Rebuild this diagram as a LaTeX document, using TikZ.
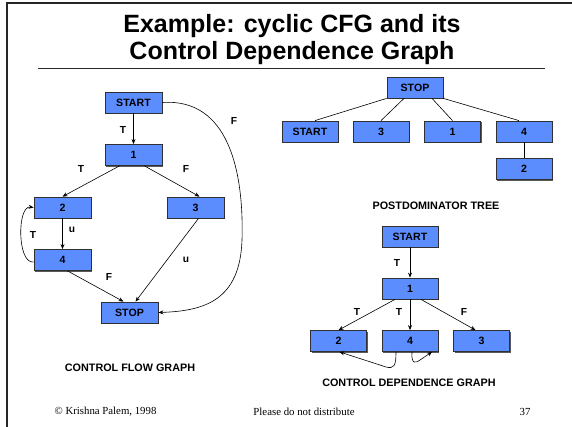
\documentclass[tikz,border=0pt]{standalone}
\usepackage{fontspec}
\setmainfont{Liberation Sans}
\newfontfamily\footserif{Liberation Serif}
\usetikzlibrary{arrows.meta,shadows}
\definecolor{boxblue}{HTML}{5C8DFF}
\definecolor{boxedge}{HTML}{303030}
\begin{document}
\begin{tikzpicture}[x=1pt,y=-1pt,
  blk/.style={draw=boxedge,line width=0.8pt,fill=boxblue,
    minimum width=57pt,minimum height=21pt,inner sep=0pt,
    font=\fontsize{10.6}{12}\selectfont\bfseries,
    drop shadow={shadow xshift=1.3pt,shadow yshift=-1.3pt,fill=black!65,opacity=1}},
  arr/.style={-{Stealth[length=5pt,width=4pt]},line width=0.6pt},
  lnk/.style={line width=0.6pt},
  elab/.style={font=\fontsize{10.2}{11}\selectfont\bfseries,inner sep=0pt},
  captext/.style={font=\fontsize{10.8}{13}\selectfont\bfseries,inner sep=0pt},
  foot/.style={font=\footserif\fontsize{10.8}{13}\selectfont,inner sep=0pt}]
\path[use as bounding box,fill=white] (0,0) rectangle (572,427);

% slide frame and title
\draw[line width=2pt,black!85] (7,427) -- (7,2.8) -- (572,2.8);
\node[align=center,inner sep=0pt,font=\fontsize{25}{27}\selectfont\bfseries]
  (title) at (292,40) {Example: cyclic CFG and its\\Control Dependence Graph};
\draw[line width=1.5pt,black!85] (38,68.5) -- (545,68.5);

% control flow graph
\node[blk] (cS) at (133.5,102.5) {START};
\node[blk] (c1) at (133.5,155) {1};
\node[blk] (c2) at (62.5,207.5) {2};
\node[blk] (c3) at (195.5,207.5) {3};
\node[blk] (c4) at (62.5,260) {4};
\node[blk] (cE) at (129.5,312.5) {STOP};
\draw[arr] (cS) -- (c1);
\draw[arr] ([xshift=-14]c1.south) -- (c2.north);
\draw[arr] ([xshift=11]c1.south) -- ([xshift=4]c3.north);
\draw[arr] (c2) -- (c4);
\draw[arr] ([xshift=5]c4.south) -- ([xshift=-6]cE.north);
\draw[arr] ([xshift=3]c3.south) -- ([xshift=6]cE.north);
\draw[arr] (cS.east) .. controls (228,98) and (244,170) .. (242,240)
  .. controls (240,300) and (205,311) .. (cE.east);
\draw[arr] ([yshift=-2]c4.west) .. controls (17,264) and (17,205) .. (c2.west);
\node[elab] (lT1) at (123,130) {T};
\node[elab] (lT2) at (81,169) {T};
\node[elab] (lF1) at (186,169) {F};
\node[elab] (lu1) at (72,230) {u};
\node[elab] (lT3) at (33,235) {T};
\node[elab] (lu2) at (186,260) {u};
\node[elab] (lF2) at (109,277) {F};
\node[elab] (lF3) at (234,121) {F};
\node[captext] (capCFG) at (130,368) {CONTROL FLOW GRAPH};

% postdominator tree
\node[blk,minimum width=56pt] (pS) at (415,87.5) {STOP};
\node[blk,minimum width=56pt] (pA) at (310,131.5) {START};
\node[blk,minimum width=56pt] (p3) at (381,131.5) {3};
\node[blk,minimum width=56pt] (p1) at (452.5,131.5) {1};
\node[blk,minimum width=56pt] (p4) at (524,131.5) {4};
\node[blk,minimum width=56pt] (p2) at (524,169) {2};
\draw[lnk] (pS.south west) -- ([xshift=5]pA.north);
\draw[lnk] ([xshift=-11]pS.south) -- (p3.north);
\draw[lnk] ([xshift=17]pS.south) -- (p1.north);
\draw[lnk] (pS.south east) -- ([xshift=-5]p4.north);
\draw[lnk] (p4) -- (p2);
\node[captext] (capPDT) at (436,206) {POSTDOMINATOR TREE};

% control dependence graph
\node[blk,minimum width=56pt] (dS) at (410,236.5) {START};
\node[blk,minimum width=56pt] (d1) at (410,288.5) {1};
\node[blk,minimum width=56pt] (d2) at (338.5,341) {2};
\node[blk,minimum width=56pt] (d4) at (410,341) {4};
\node[blk,minimum width=56pt] (d3) at (481.5,341) {3};
\draw[arr] (dS) -- (d1);
\draw[arr] ([xshift=-15]d1.south) -- (d2.north);
\draw[arr] (d1) -- (d4);
\draw[arr] ([xshift=11]d1.south) -- ([xshift=-6]d3.north);
\draw[arr] ([xshift=-14]d4.south) .. controls (396,366) and (394,369) .. (386,367)
  -- ([xshift=1]d2.south);
\draw[arr] ([xshift=2]d4.south) .. controls (411,365) and (416,363) .. (420,360)
  -- ([xshift=22]d4.south);
\node[elab] (mT1) at (397,263) {T};
\node[elab] (mT2) at (357,312) {T};
\node[elab] (mT3) at (399,312) {T};
\node[elab] (mF1) at (464,312) {F};
\node[captext] (capCDG) at (409,383) {CONTROL DEPENDENCE GRAPH};

% footer
\node[foot] (fl) at (105.5,412) {© Krishna Palem, 1998};
\node[foot] (fm) at (304,412) {Please do not distribute};
\node[foot] (fr) at (525,412) {37};
\end{tikzpicture}
\end{document}
